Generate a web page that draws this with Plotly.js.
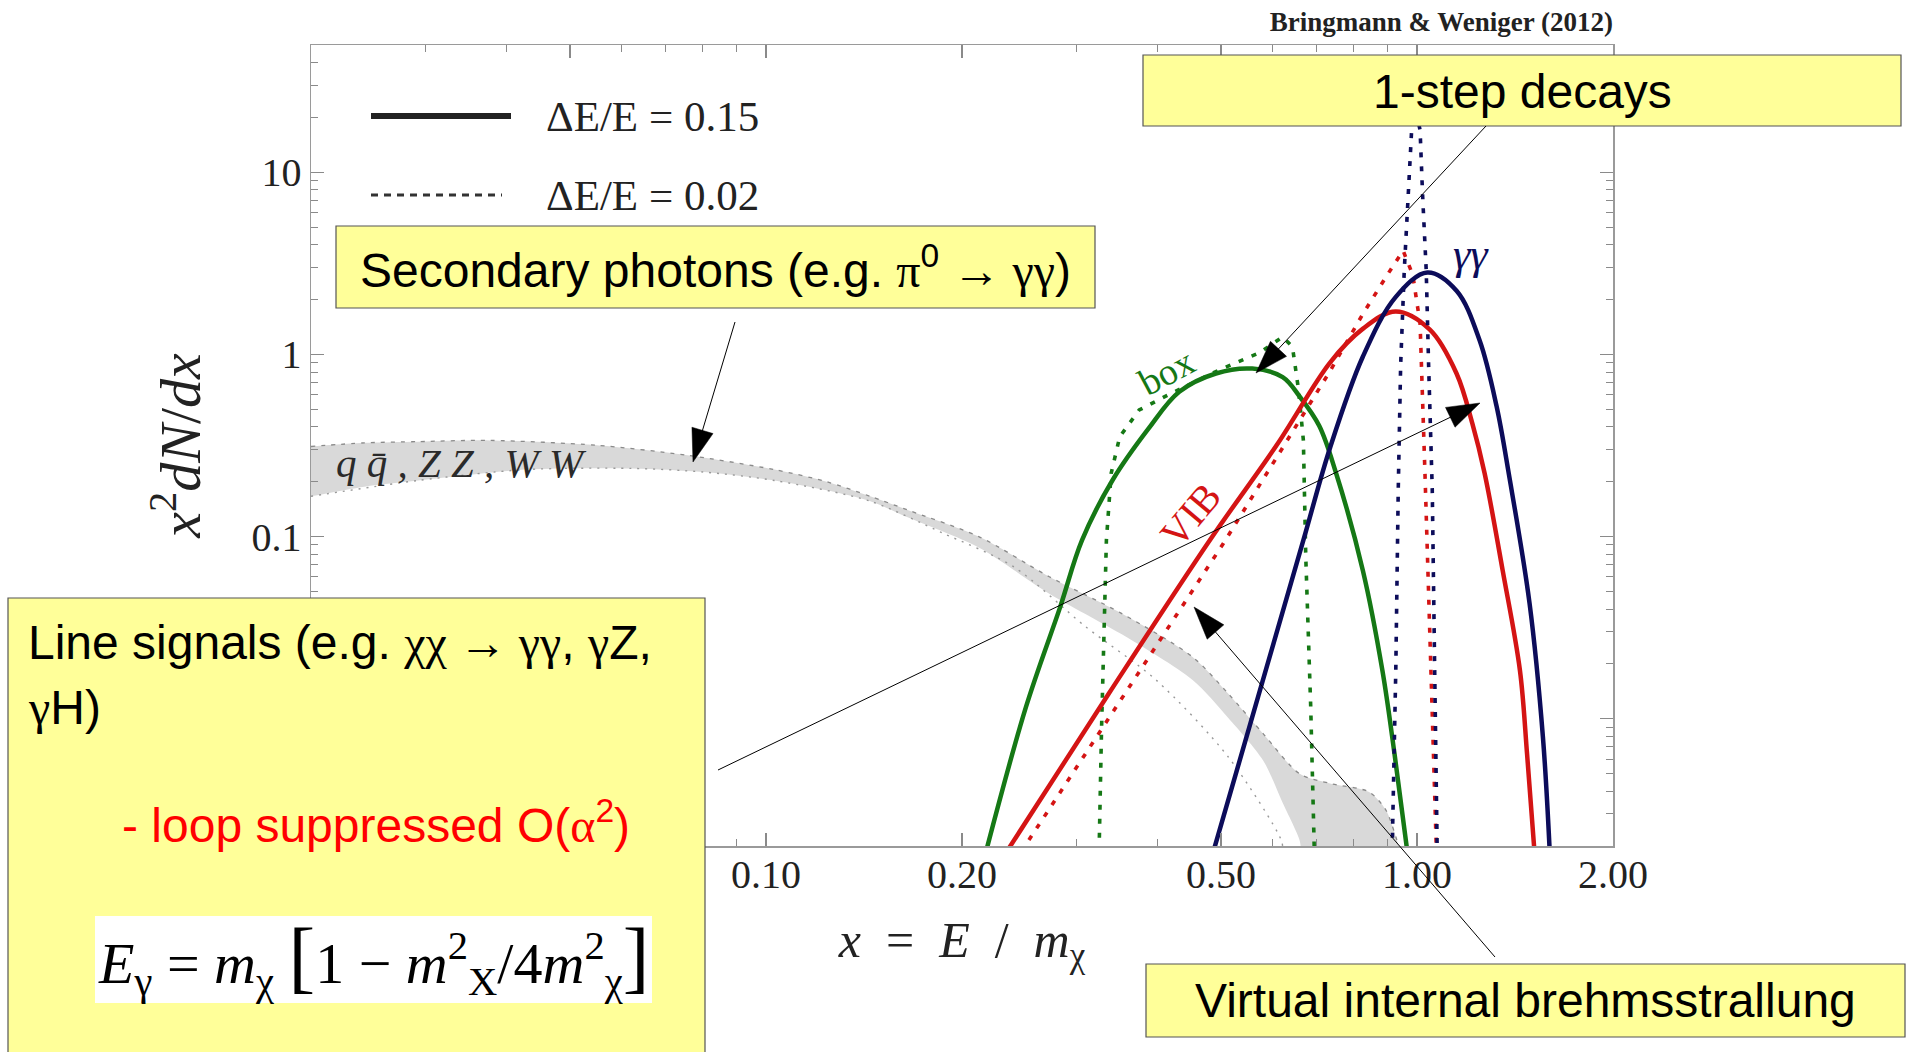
<!DOCTYPE html>
<html><head><meta charset="utf-8">
<script src="https://cdn.plot.ly/plotly-3.0.1.min.js"></script>
<style>html,body{margin:0;padding:0;background:#fff}#chart{width:1907px;height:1052px}</style>
</head><body><div id="chart"></div>
<script>
// ---------------- data ----------------
const bandUpperX = [0.02,0.02416,0.0292,0.03763,0.05495,0.07522,0.1030,0.1239,0.1446,0.1646,0.2122,0.2723,0.3509,0.4521,0.5126,0.5802,0.6604,0.7352,0.8439,0.8962,0.9397,0.9519];
const bandUpperY = [0.3123,0.3270,0.3321,0.3373,0.3171,0.2804,0.2332,0.2000,0.1663,0.1404,0.1000,0.0602,0.0380,0.02182,0.01375,0.00828,0.00498,0.00441,0.00396,0.00314,0.00198,0.00186];
const bandLowerX = [0.02,0.02416,0.0292,0.04264,0.06226,0.08024,0.1030,0.1239,0.1446,0.1646,0.2122,0.2723,0.3509,0.4521,0.5126,0.5802,0.6217,0.6604,0.6634];
const bandLowerY = [0.1663,0.1880,0.2032,0.2332,0.2367,0.2261,0.2032,0.1795,0.1563,0.1280,0.0871,0.0486,0.02923,0.01629,0.01012,0.00590,0.00345,0.00214,0.00186];
const bandFineLowerX = [0.02,0.0292,0.04264,0.06226,0.08024,0.1030,0.1446,0.1865,0.2403,0.3097,0.3975,0.5126,0.6191,0.622];
const bandFineLowerY = [0.1663,0.2032,0.2332,0.2367,0.2261,0.2032,0.1563,0.1048,0.0681,0.0320,0.01629,0.00618,0.00214,0.00186];

const boxWideX = [0.2177,0.2508,0.2830,0.3058,0.3404,0.3873,0.4313,0.4909,0.5582,0.6217,0.6604,0.7075,0.7511,0.8258,0.8847,0.9237,0.9663];
const boxWideY = [0.00186,0.01161,0.0410,0.0955,0.2032,0.3936,0.6237,0.786,0.836,0.7505,0.5869,0.4056,0.2226,0.0650,0.01842,0.00637,0.00186];
const boxNarrowX = [0.3248,0.3276,0.3333,0.3390,0.3494,0.3743,0.4133,0.4972,0.5728,0.6217,0.6436,0.6575,0.6690,0.6747,0.6865,0.6954];
const boxNarrowY = [0.00186,0.00867,0.0955,0.2226,0.3532,0.4955,0.5957,0.8231,1.021,1.247,1.102,0.6434,0.3373,0.0770,0.01179,0.00186];

const vibWideX = [0.2342,0.3362,0.4805,0.6085,0.7352,0.8225,0.9277,1.0464,1.150,1.216,1.270,1.354,1.439,1.476,1.515];
const vibWideY = [0.00186,0.01375,0.0955,0.3171,0.9026,1.368,1.722,1.368,0.786,0.4182,0.2226,0.0650,0.01842,0.00637,0.00186];
const vibNarrowX = [0.2466,0.5037,0.7352,0.8258,0.9000,0.9519,0.9851,1.0109,1.0285,1.0507,1.071];
const vibNarrowY = [0.00186,0.0912,0.8102,1.670,2.732,3.716,2.732,1.476,0.2226,0.01871,0.00186];

const ggWideX = [0.4865,0.5705,0.6690,0.7352,0.8258,0.9277,1.0373,1.150,1.248,1.325,1.384,1.489,1.561,1.599];
const ggWideY = [0.00186,0.01334,0.0955,0.3075,0.9747,2.071,2.818,2.237,1.191,0.5188,0.2193,0.0429,0.00791,0.00186];
const ggNarrowX = [0.9158,0.9277,0.9357,0.9437,0.9559,0.9683,0.9811,0.9959,1.0109,1.0198,1.033,1.0418,1.0554,1.0644,1.074];
const ggNarrowY = [0.00186,0.01871,0.1795,0.8752,2.905,7.54,17.03,21.8,17.03,7.54,2.905,0.8752,0.1795,0.01871,0.00186];

const xTickVals = [0.02,0.05,0.1,0.2,0.5,1,2];
const xTickText = ['0.02','0.05','0.10','0.20','0.50','1.00','2.00'];
const xMinorVals = [0.03,0.04,0.06,0.07,0.08,0.09,0.3,0.4,0.6,0.7,0.8,0.9];
const yTickVals = [0.01,0.1,1,10];
const yTickText = ['0.01','0.1','1','10'];
const yMinorVals = [0.002,0.003,0.004,0.005,0.006,0.007,0.008,0.009,0.02,0.03,0.04,0.05,0.06,0.07,0.08,0.09,0.2,0.3,0.4,0.5,0.6,0.7,0.8,0.9,2,3,4,5,6,7,8,9,20,30,40,50];

const legendLabels = ['ΔE/E = 0.15','ΔE/E = 0.02'];
const curveLabels = ['box','VIB','γγ','q q\u0304 , Z Z , W W'];

// ---------------- layout helpers ----------------
const L = 311, T = 45, PW = 1302, PH = 801;
const px = X => (X - L) / PW;
const py = Y => (T + PH - Y) / PH;
const SERIF = 'Liberation Serif, Times New Roman, serif';
const SANS = 'Liberation Sans, Arial, sans-serif';
const GREEN = '#157815', RED = '#d41414', NAVY = '#0c0c5a';
const YELLOW = '#ffff99';
const sg = s => '<span style="font-family:Liberation Serif">' + s + '</span>';

const solid = c => ({color: c, width: 4.5, shape: 'spline', smoothing: 1.0});
const dotted = c => ({color: c, width: 3.6, dash: '5px,9px'});

const traces = [
  {x: bandLowerX, y: bandLowerY, mode: 'lines', line: {width: 0, color: 'rgba(0,0,0,0)', shape: 'spline', smoothing: 0.8}},
  {x: bandUpperX, y: bandUpperY, mode: 'lines', fill: 'tonexty', fillcolor: '#d9d9d9', line: {width: 0, color: 'rgba(0,0,0,0)', shape: 'spline', smoothing: 0.8}},
  {x: bandUpperX, y: bandUpperY, mode: 'lines', line: {color: '#8a8a8a', width: 1.3, dash: '4px,6px', shape: 'spline', smoothing: 0.8}},
  {x: bandFineLowerX, y: bandFineLowerY, mode: 'lines', line: {color: '#999999', width: 1.4, dash: '2px,6px', shape: 'spline', smoothing: 0.8}},
  {x: boxWideX, y: boxWideY, mode: 'lines', line: solid(GREEN)},
  {x: boxNarrowX, y: boxNarrowY, mode: 'lines', line: dotted(GREEN)},
  {x: vibWideX, y: vibWideY, mode: 'lines', line: solid(RED)},
  {x: vibNarrowX, y: vibNarrowY, mode: 'lines', line: dotted(RED)},
  {x: ggWideX, y: ggWideY, mode: 'lines', line: solid(NAVY)},
  {x: ggNarrowX, y: ggNarrowY, mode: 'lines', line: dotted(NAVY)}
];

// arrows: [tailX, tailY, tipX, tipY] in page pixels
const arrows = [[735,322,693,462],[1486,126,1256,373],[718,770,1480,403],[1495,957,1194,607]];
const shapes = [];
const rect = (x0,y0,x1,y1,fill,lc) => ({type:'rect', xref:'paper', yref:'paper', x0:px(x0), x1:px(x1), y0:py(y1), y1:py(y0), fillcolor:fill, line:{color:lc, width:lc==='rgba(0,0,0,0)'?0:1.2}, layer:'above'});
// legend samples
shapes.push({type:'line', xref:'paper', yref:'paper', x0:px(371), x1:px(511), y0:py(116), y1:py(116), line:{color:'#222', width:6}});
shapes.push({type:'line', xref:'paper', yref:'paper', x0:px(371), x1:px(502), y0:py(195), y1:py(195), line:{color:'#333', width:3, dash:'7px,6px'}});
// boxes
shapes.push(rect(336,226,1095,308,YELLOW,'#555'));
shapes.push(rect(1143,55,1901,126,YELLOW,'#555'));
shapes.push(rect(8,598,705,1070,YELLOW,'#555'));
shapes.push(rect(95,916,652,1003,'#ffffff','rgba(0,0,0,0)'));
shapes.push(rect(1146,964,1905,1037,YELLOW,'#555'));
// arrow shafts and heads
arrows.forEach(([ax,ay,tx,ty]) => {
  const dx = tx-ax, dy = ty-ay, d = Math.hypot(dx,dy), ux = dx/d, uy = dy/d;
  const len = 33, hw = 11;
  const bx = tx-ux*len, by = ty-uy*len;
  shapes.push({type:'line', xref:'paper', yref:'paper', x0:px(ax), y0:py(ay), x1:px(bx+ux*2), y1:py(by+uy*2), line:{color:'#000', width:1}});
  const p1 = [bx - uy*hw, by + ux*hw], p2 = [bx + uy*hw, by - ux*hw];
  shapes.push({type:'path', xref:'paper', yref:'paper', path:`M ${px(tx)} ${py(ty)} L ${px(p1[0])} ${py(p1[1])} L ${px(p2[0])} ${py(p2[1])} Z`, fillcolor:'#000', line:{color:'#000', width:0.5}});
});

const A = (X,Y,text,font,extra) => Object.assign({xref:'paper', yref:'paper', x:px(X), y:py(Y), text:text, showarrow:false, xanchor:'center', yanchor:'middle', font:font}, extra||{});
const BOXF = {family:SANS,size:48,color:'#000'};
const annotations = [
  A(461,463,'<i>'+curveLabels[3]+'</i>',{family:SERIF,size:41,color:'#2a2a2a'}),
  A(1166,372,curveLabels[0],{family:SERIF,size:38,color:GREEN},{textangle:-28}),
  A(1190,515,curveLabels[1],{family:SERIF,size:40,color:RED},{textangle:-50}),
  A(1471,255,'<i>'+curveLabels[2]+'</i>',{family:SERIF,size:44,color:NAVY}),
  A(544,116,legendLabels[0],{family:SERIF,size:43,color:'#222'},{xanchor:'left'}),
  A(544,195,legendLabels[1],{family:SERIF,size:43,color:'#222'},{xanchor:'left'}),
  A(715,267,'Secondary photons (e.g. '+sg('π')+'<sup>0</sup> '+sg('→ γγ')+')',BOXF),
  A(1522,91,'1-step decays',BOXF),
  A(1525,1000,'Virtual internal brehmsstrallung',BOXF),
  A(26,642,'Line signals (e.g. '+sg('χχ → γγ')+', '+sg('γ')+'Z,',BOXF,{xanchor:'left'}),
  A(26,707,sg('γ')+'H)',BOXF,{xanchor:'left'}),
  A(376,822,'- loop suppressed O('+sg('α')+'<sup>2</sup>)',{family:SANS,size:48,color:'#ff0000'}),
  A(373,958,'<i>E</i><sub>γ</sub> = <i>m</i><sub>χ</sub> <span style="font-size:80px">[</span>1 − <i>m</i><sup>2</sup><sub>Χ</sub>/4<i>m</i><sup>2</sup><sub>χ</sub><span style="font-size:80px">]</span>',{family:SERIF,size:58,color:'#000'})
];

const axisCommon = {
  type:'log', showgrid:false, zeroline:false, showline:true, linecolor:'#9a9a9a', linewidth:1.5,
  mirror:'allticks', ticks:'inside', ticklen:13, tickwidth:1.2, tickcolor:'#8a8a8a',
  tickfont:{family:SERIF, size:40, color:'#222'}
};
const layout = {
  width:1907, height:1052,
  margin:{l:L, r:1907-L-PW, t:T, b:1052-T-PH, autoexpand:false},
  paper_bgcolor:'#fff', plot_bgcolor:'#fff', showlegend:false, hovermode:false,
  title:{text:'<b>Bringmann &amp; Weniger (2012)</b>', xref:'paper', x:1, xanchor:'right', yref:'container', y:1-22/1052, yanchor:'middle', font:{family:SERIF, size:27, color:'#222'}},
  xaxis:Object.assign({}, axisCommon, {
    range:[Math.log10(0.02), Math.log10(2)], tickmode:'array', tickvals:xTickVals, ticktext:xTickText,
    minor:{tickmode:'array', tickvals:xMinorVals, ticks:'inside', ticklen:7, tickwidth:1, tickcolor:'#8a8a8a', showgrid:false},
    ticklabelstandoff:-8,
    title:{text:'<i>x</i>\u2002=\u2002<i>E</i>\u2002/\u2002<i>m</i><sub>χ</sub>', font:{family:SERIF, size:50, color:'#222'}, standoff:26}
  }),
  yaxis:Object.assign({}, axisCommon, {
    range:[Math.log10(0.002), Math.log10(50)], tickmode:'array', tickvals:yTickVals, ticktext:yTickText,
    minor:{tickmode:'array', tickvals:yMinorVals, ticks:'inside', ticklen:7, tickwidth:1, tickcolor:'#8a8a8a', showgrid:false},
    ticklabelstandoff:0,
    title:{text:'<i>x</i><sup>2</sup><i>dN</i>/<i>dx</i>', font:{family:SERIF, size:58, color:'#222'}, standoff:12}
  }),
  shapes:shapes, annotations:annotations
};
Plotly.newPlot('chart', traces, layout, {staticPlot:true, displayModeBar:false});
</script></body></html>
